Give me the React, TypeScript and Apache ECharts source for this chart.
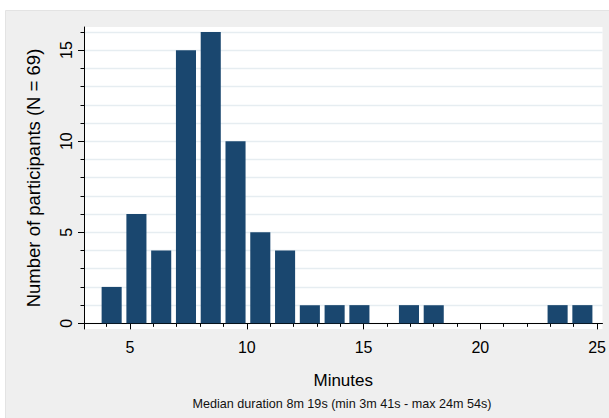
import React, { useEffect, useRef } from "react";
import * as echarts from "echarts";

// Histogram of completion durations (minutes), 20 equal bins from min to max
const DURATION_MIN = 3 + 41 / 60; // 3m 41s
const DURATION_MAX = 24 + 54 / 60; // 24m 54s
const BIN_COUNTS = [2, 6, 4, 15, 16, 10, 5, 4, 1, 1, 1, 0, 1, 1, 0, 0, 0, 0, 1, 1];

const X_MAJOR_TICKS = [5, 10, 15, 20, 25];
const X_MINOR_TICKS = [4, 5, 6, 7, 8, 9, 10, 11, 12, 13, 14, 15, 16, 17, 18, 19, 20, 21, 22, 23, 24, 25];
const Y_MAJOR_TICKS = [0, 5, 10, 15];
const Y_MINOR_TICKS = [0, 1, 2, 3, 4, 5, 6, 7, 8, 9, 10, 11, 12, 13, 14, 15, 16];

const X_TITLE = "Minutes";
const Y_TITLE = "Number of participants (N = 69)";
const NOTE = "Median duration 8m 19s (min 3m 41s - max 24m 54s)";

const FONT = "Liberation Sans, Arial, Helvetica, sans-serif";
const BAR_COLOR = "#1a476f";
const GRID_COLOR = "#e6edf1";

export default function App() {
  const ref = useRef<HTMLDivElement>(null);

  useEffect(() => {
    if (!ref.current) return;
    const chart = echarts.init(ref.current, undefined, { renderer: "svg" });

    const nBins = BIN_COUNTS.length;
    const binWidth = (DURATION_MAX - DURATION_MIN) / nBins;
    const data = BIN_COUNTS.map((c, i) => [
      DURATION_MIN + i * binWidth,
      DURATION_MIN + (i + 1) * binWidth,
      c,
    ]);

    const X_MIN = 3.03;
    const X_MAX = 25.23;
    const Y_MIN = -0.31;
    const Y_MAX = 16.27;

    const option: any = {
      animation: false,
      backgroundColor: "#ffffff",
      textStyle: { fontFamily: FONT },
      graphic: [
        {
          type: "rect",
          z: -10,
          silent: true,
          shape: { x: 5.5, y: 10.5, width: 620, height: 420 },
          style: { fill: "#efefef", stroke: "#e3e3e3", lineWidth: 1 },
        },
        {
          type: "text",
          x: 342,
          y: 404,
          style: {
            text: NOTE,
            fontSize: 12.6,
            fontFamily: FONT,
            fill: "#111",
            align: "center",
            verticalAlign: "middle",
          },
        },
      ],
      grid: {
        left: 84,
        right: 6,
        top: 27,
        bottom: 89,
        show: true,
        backgroundColor: "#ffffff",
        borderWidth: 0,
      },
      xAxis: [
        {
          type: "value",
          min: X_MIN,
          max: X_MAX,
          position: "bottom",
          name: X_TITLE,
          nameLocation: "middle",
          nameGap: 43,
          nameTextStyle: { fontSize: 17, color: "#000", fontFamily: FONT },
          axisLine: { show: true, lineStyle: { color: "#000", width: 1 } },
          axisTick: { show: true, length: 6, customValues: X_MAJOR_TICKS, lineStyle: { color: "#000" } },
          axisLabel: { show: true, customValues: X_MAJOR_TICKS, fontSize: 16, color: "#000", margin: 10, fontFamily: FONT },
          splitLine: { show: false },
        },
        {
          type: "value",
          min: X_MIN,
          max: X_MAX,
          position: "bottom",
          axisLine: { show: false },
          axisTick: { show: true, length: 3.5, customValues: X_MINOR_TICKS, lineStyle: { color: "#000" } },
          axisLabel: { show: false },
          splitLine: { show: false },
        },
      ],
      yAxis: [
        {
          type: "value",
          min: Y_MIN,
          max: Y_MAX,
          position: "left",
          name: Y_TITLE,
          nameLocation: "middle",
          nameGap: 41,
          nameTextStyle: { fontSize: 18.5, color: "#000", fontFamily: FONT },
          axisLine: { show: true, lineStyle: { color: "#000", width: 1 } },
          axisTick: { show: true, length: 6, customValues: Y_MAJOR_TICKS, lineStyle: { color: "#000" } },
          axisLabel: { show: true, customValues: Y_MAJOR_TICKS, rotate: 90, fontSize: 16, color: "#000", margin: 10, fontFamily: FONT },
          splitLine: { show: false },
        },
        {
          type: "value",
          min: Y_MIN,
          max: Y_MAX,
          position: "left",
          axisLine: { show: false },
          axisTick: { show: true, length: 3.5, customValues: Y_MINOR_TICKS, lineStyle: { color: "#000" } },
          axisLabel: { show: false },
          splitLine: { show: true, lineStyle: { color: GRID_COLOR, width: 1.3 } },
        },
      ],
      series: [
        {
          type: "custom",
          xAxisIndex: 0,
          yAxisIndex: 0,
          data,
          encode: { x: [0, 1], y: 2 },
          renderItem: (params: any, api: any) => {
            const lo = api.value(0);
            const hi = api.value(1);
            const c = api.value(2);
            if (!c) return null;
            const pad = ((hi - lo) * 0.19) / 2;
            const p0 = api.coord([lo + pad, c]);
            const p1 = api.coord([hi - pad, 0]);
            return {
              type: "rect",
              shape: { x: p0[0], y: p0[1], width: p1[0] - p0[0], height: p1[1] - p0[1] },
              style: { fill: BAR_COLOR },
            };
          },
        },
      ],
    };

    chart.setOption(option);
    return () => chart.dispose();
  }, []);

  return (
    <div
      ref={ref}
      style={{ position: "absolute", left: 0, top: 0, width: 609, height: 418 }}
    />
  );
}
